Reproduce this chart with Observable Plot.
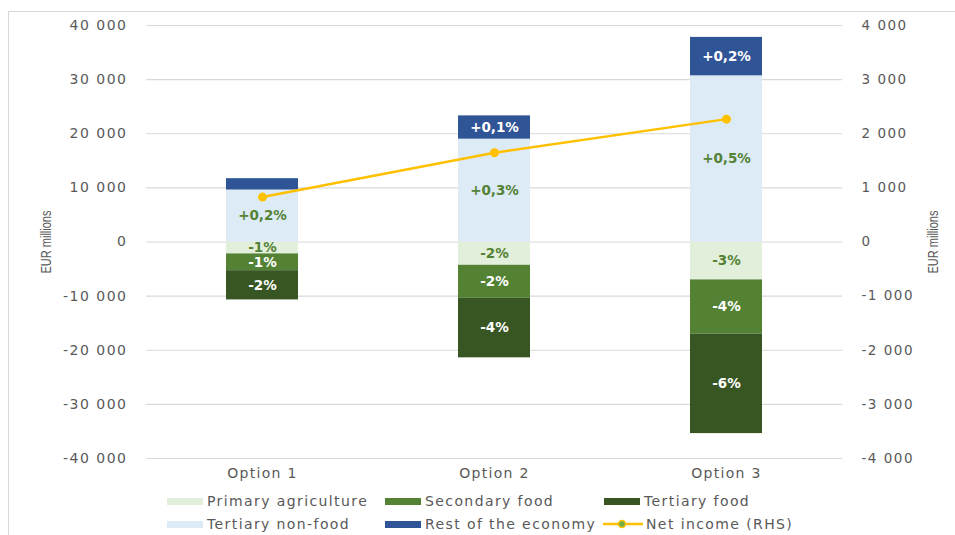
<!DOCTYPE html>
<html>
<head>
<meta charset="utf-8">
<script src="https://cdn.jsdelivr.net/npm/d3@7"></script>
<script src="https://cdn.jsdelivr.net/npm/@observablehq/plot@0.6"></script>
<style>
  body { margin: 0; background: #fff; font-family: "DejaVu Sans", sans-serif; }
  #wrap { position: relative; width: 955px; height: 535px; overflow: hidden; background: #fff; }
  #frame { position: absolute; left: 8px; top: 11px; width: 1000px; height: 700px; border: 1px solid #d9d9d9; box-sizing: border-box; }
  #chart { position: absolute; left: 0; top: 0; }
  #chart svg g[aria-label="y-axis tick label"] text { letter-spacing: 1.5px; }
  #chart svg g[aria-label="x-axis tick label"] text { letter-spacing: 1.3px; }
  .item { position: absolute; display: flex; align-items: center; font-size: 14px; letter-spacing: 1.4px; color: #595959; height: 16px; white-space: nowrap; }
  .sw { width: 36px; height: 7px; margin-right: 4px; }
</style>
</head>
<body>
<div id="wrap">
  <div id="frame"></div>
  <div id="chart"></div>
  <div id="legend"></div>
</div>
<script>
// ---- data ----
const options = ["Option 1", "Option 2", "Option 3"];
const seriesNames = ["Primary agriculture", "Secondary food", "Tertiary food", "Tertiary non-food", "Rest of the economy"];
const seriesColors = ["#E2EFDA", "#548235", "#375623", "#DDEBF7", "#2F5597"];
const primaryAgriculture = [-2200, -4300, -7000];
const secondaryFood = [-3100, -6100, -10000];
const tertiaryFood = [-5400, -11000, -18400];
const tertiaryNonFood = [9600, 19000, 30700];
const restOfEconomy = [2100, 4300, 7100];
const primaryLabels = ["-1%", "-2%", "-3%"];
const secondaryLabels = ["-1%", "-2%", "-4%"];
const tertiaryFoodLabels = ["-2%", "-4%", "-6%"];
const nonFoodLabels = ["+0,2%", "+0,3%", "+0,5%"];
const restLabels = [null, "+0,1%", "+0,2%"];
const netIncome = [830, 1650, 2270]; // RHS
const leftTicks = [-40000, -30000, -20000, -10000, 0, 10000, 20000, 30000, 40000];
const rightTicks = [-4000, -3000, -2000, -1000, 0, 1000, 2000, 3000, 4000];
const rhsFactor = 10;

// ---- build table ----
const seriesValues = [primaryAgriculture, secondaryFood, tertiaryFood, tertiaryNonFood, restOfEconomy];
const seriesLabels = [primaryLabels, secondaryLabels, tertiaryFoodLabels, nonFoodLabels, restLabels];
const lightSeries = new Set(["Primary agriculture", "Tertiary non-food"]);
const rows = [];
seriesNames.forEach((s, i) => options.forEach((o, j) => rows.push({option: o, series: s, value: seriesValues[i][j], label: seriesLabels[i][j]})));
const net = options.map((o, j) => ({option: o, value: netIncome[j]}));

const fmt = v => d3.format(",")(v).replace(/,/g, " ").replace("\u2212", "-");

const chart = Plot.plot({
  width: 955,
  height: 485,
  marginLeft: 146,
  marginRight: 113,
  marginTop: 25,
  marginBottom: 27,
  style: {fontFamily: "DejaVu Sans, sans-serif", fontSize: "13px", color: "#595959", background: "transparent", overflow: "visible"},
  x: {domain: options, paddingInner: 0.69, paddingOuter: 0.345, label: null},
  y: {domain: [-40000, 40000], label: null},
  color: {domain: seriesNames, range: seriesColors},
  marks: [
    Plot.ruleY(leftTicks, {stroke: "#d9d9d9", strokeWidth: 1.2}),
    Plot.barY(rows, Plot.stackY({x: "option", y: "value", z: "series", order: seriesNames, fill: "series"})),
    Plot.text(rows, Plot.stackY({x: "option", y: "value", z: "series", order: seriesNames,
      text: d => lightSeries.has(d.series) ? d.label : null, fill: "#548235", fontWeight: "bold", fontSize: 13.5})),
    Plot.text(rows, Plot.stackY({x: "option", y: "value", z: "series", order: seriesNames,
      text: d => lightSeries.has(d.series) ? null : d.label, fill: "white", fontWeight: "bold", fontSize: 13.5})),
    Plot.line(net, {x: "option", y: d => d.value * rhsFactor, stroke: "#FFC000", strokeWidth: 2.5}),
    Plot.dot(net, {x: "option", y: d => d.value * rhsFactor, r: 4.5, fill: "#FFC000"}),
    Plot.axisX({tickSize: 0, tickPadding: 10, label: null, fontSize: 14}),
    Plot.axisY({anchor: "left", ticks: leftTicks, tickSize: 0, tickPadding: 19, tickFormat: fmt, label: null, fontSize: 14}),
    Plot.axisY({anchor: "right", ticks: rightTicks.map(v => v * rhsFactor), tickSize: 0, tickPadding: 19, tickFormat: d => fmt(d / rhsFactor), label: null, fontSize: 13.5})
  ]
});
document.getElementById("chart").appendChild(chart);

// axis titles
const svg = d3.select(chart);
[[47, "EUR millions"], [934, "EUR millions"]].forEach(([x, t]) => {
  svg.append("text")
    .attr("transform", `translate(${x},242) rotate(-90)`)
    .attr("text-anchor", "middle")
    .attr("dominant-baseline", "middle")
    .attr("font-family", "Liberation Sans, sans-serif")
    .attr("font-size", 14)
    .attr("letter-spacing", 0)
    .attr("fill", "#595959")
    .attr("textLength", 63)
    .attr("lengthAdjust", "spacingAndGlyphs")
    .text(t);
});

// legend
const legendItems = [
  {name: seriesNames[0], color: seriesColors[0], x: 167, y: 501},
  {name: seriesNames[1], color: seriesColors[1], x: 385, y: 501},
  {name: seriesNames[2], color: seriesColors[2], x: 604, y: 501},
  {name: seriesNames[3], color: seriesColors[3], x: 167, y: 524},
  {name: seriesNames[4], color: seriesColors[4], x: 385, y: 524},
  {name: "Net income (RHS)", color: null, x: 603, y: 524}
];
const leg = document.getElementById("legend");
legendItems.forEach(it => {
  const div = document.createElement("div");
  div.className = "item";
  div.style.left = it.x + "px";
  div.style.top = (it.y - 8) + "px";
  if (it.color) {
    div.innerHTML = `<div class="sw" style="background:${it.color}"></div><span>${it.name}</span>`;
  } else {
    div.innerHTML = `<svg width="40" height="12" style="margin-right:3px"><line x1="0" x2="40" y1="6" y2="6" stroke="#FFC000" stroke-width="2.5"/><circle cx="19" cy="6" r="3.5" fill="#70AD47" stroke="#FFC000" stroke-width="1.5"/></svg><span>${it.name}</span>`;
  }
  leg.appendChild(div);
});
</script>
</body>
</html>
